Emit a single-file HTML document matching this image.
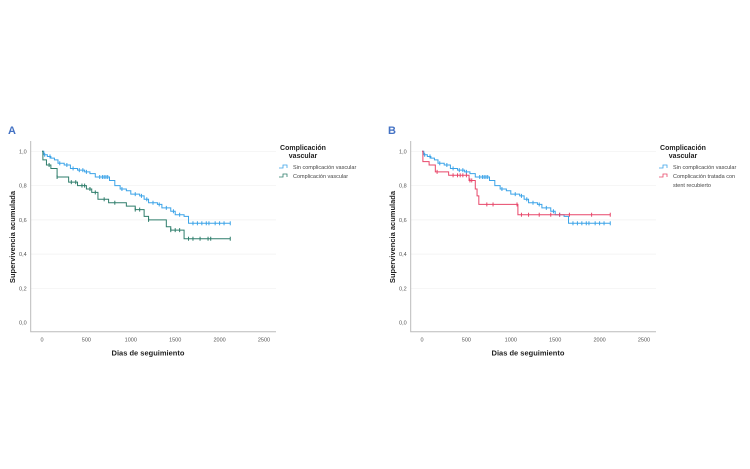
<!DOCTYPE html>
<html><head><meta charset="utf-8"><style>
body{margin:0;background:#fff;width:750px;height:469px;overflow:hidden;font-family:"Liberation Sans",sans-serif}
svg{position:absolute;left:0;top:0}
</style></head><body>
<svg id="c" width="750" height="469"></svg>
<script>
const xTicks=[0,500,1000,1500,2000,2500];
const yTicks=[0,0.2,0.4,0.6,0.8,1.0];
const yTickLabels=["0,0","0,2","0,4","0,6","0,8","1,0"];
const sinDays=[0,20,60,100,140,180,250,320,400,480,540,600,760,820,880,950,1000,1100,1150,1200,1300,1350,1450,1500,1600,1650];
const sinSurv=[1.0,0.98,0.97,0.96,0.95,0.93,0.92,0.90,0.89,0.88,0.87,0.85,0.83,0.80,0.78,0.77,0.75,0.74,0.72,0.70,0.69,0.67,0.65,0.63,0.62,0.58];
const sinCens=[30,90,200,280,350,420,460,500,650,680,700,720,740,900,1050,1120,1180,1250,1320,1400,1480,1550,1700,1750,1800,1850,1880,1950,2000,2050,2120];
const vascDays=[0,10,50,100,170,300,400,500,560,630,750,950,1050,1150,1200,1400,1450,1600];
const vascSurv=[1.0,0.95,0.92,0.90,0.85,0.82,0.80,0.78,0.76,0.72,0.70,0.68,0.66,0.62,0.60,0.56,0.54,0.49];
const vascCens=[80,170,330,380,450,480,540,600,700,820,1050,1100,1200,1450,1500,1550,1650,1700,1780,1870,1900,2120];
const stentDays=[0,10,80,150,300,530,600,620,640,1080];
const stentSurv=[1.0,0.94,0.92,0.88,0.86,0.83,0.78,0.74,0.69,0.63];
const stentCens=[170,350,400,430,460,500,540,560,730,800,1070,1120,1200,1320,1450,1550,1660,1910,2120];
const endDay=2120;
const NS="http://www.w3.org/2000/svg";
const svg=document.getElementById('c');
function el(t,a,p){const e=document.createElementNS(NS,t);for(const k in a)e.setAttribute(k,a[k]);(p||svg).appendChild(e);return e;}
function chart(ox,label,series,legendLines){
  const g=el('g',{});
  
  
  const X=d=>ox+42+d*(222/2500), Y=v=>322.7-v*171.4;
  const L=ox+30.7,R=ox+276,B=331.7,T=141;
  yTicks.forEach((v,i)=>{
    if(v>0){const gl=el('line',{x1:L,x2:R,y1:Y(v),y2:Y(v),stroke:'#f0f0f0','stroke-width':0.7},g);}
    const t=el('text',{x:L-4,y:Y(v)+2,'font-size':5.5,fill:'#555','text-anchor':'end'},g);t.textContent=yTickLabels[i];
    
  });
  xTicks.forEach(v=>{const t=el('text',{x:X(v),y:B+10,'font-size':5.5,fill:'#555','text-anchor':'middle'},g);t.textContent=v;
    });
  const ax=el('path',{d:`M${L},${T}V${B}H${R}`,fill:'none',stroke:'#bbb','stroke-width':1},g);
  
  const xt=el('text',{x:ox+148,y:B+24,'font-size':7.5,'font-weight':'bold',fill:'#222','text-anchor':'middle'},g);xt.textContent='Dias de seguimiento';
  
  const yt=el('text',{transform:`translate(${ox+15},${237}) rotate(-90)`,'font-size':7.5,'font-weight':'bold',fill:'#222','text-anchor':'middle'},g);yt.textContent='Supervivencia acumulada';
  
  const lb=el('text',{x:ox+8,y:134,'font-size':11,'font-weight':'bold',fill:'#4472c4'},g);lb.textContent=label;
  
  series.forEach(s=>{
    let d=`M${X(s.days[0])},${Y(s.surv[0])}`;
    for(let i=1;i<s.days.length;i++)d+=`H${X(s.days[i])}V${Y(s.surv[i])}`;
    d+=`H${X(endDay)}`;
    const p=el('path',{d,fill:'none',stroke:s.color,'stroke-width':1},g);
    
    s.cens.forEach(c=>{let v=s.surv[0];for(let i=0;i<s.days.length;i++)if(s.days[i]<=c)v=s.surv[i];
      const m=el('line',{x1:X(c),x2:X(c),y1:Y(v)-2,y2:Y(v)+2,stroke:s.color,'stroke-width':1},g);
      });
  });
  const lg=el('g',{},g);
  const t1=el('text',{x:ox+303,y:150,'font-size':7,'font-weight':'bold',fill:'#222','text-anchor':'middle'},lg);t1.textContent='Complicación';
  const t2=el('text',{x:ox+303,y:158,'font-size':7,'font-weight':'bold',fill:'#222','text-anchor':'middle'},lg);t2.textContent='vascular';
  legendLines.forEach((l,i)=>{
    const yy=167+i*9;
    if(l.color){const sw=el('path',{d:`M${ox+279},${yy+1}H${ox+283}V${yy-2}H${ox+287}V${yy+1}`,fill:'none',stroke:l.color,'stroke-width':0.8},lg);
      }
    const t=el('text',{x:ox+293,y:yy+2,'font-size':5.5,fill:'#444'},lg);t.textContent=l.text;
    
  });
}
chart(0,'A',[
 {name:'sin-complicacion',days:sinDays,surv:sinSurv,cens:sinCens,color:'#3ba3e8'},
 {name:'complicacion-vascular',days:vascDays,surv:vascSurv,cens:vascCens,color:'#2e7d6b'}],
 [{text:'Sin complicación vascular',color:'#3ba3e8'},{text:'Complicación vascular',color:'#2e7d6b'}]);
chart(380,'B',[
 {name:'sin-complicacion',days:sinDays,surv:sinSurv,cens:sinCens,color:'#3ba3e8'},
 {name:'stent-recubierto',days:stentDays,surv:stentSurv,cens:stentCens,color:'#e8476a'}],
 [{text:'Sin complicación vascular',color:'#3ba3e8'},{text:'Complicación tratada con',color:'#e8476a'},{text:'stent recubierto'}]);
</script>
</body></html>
